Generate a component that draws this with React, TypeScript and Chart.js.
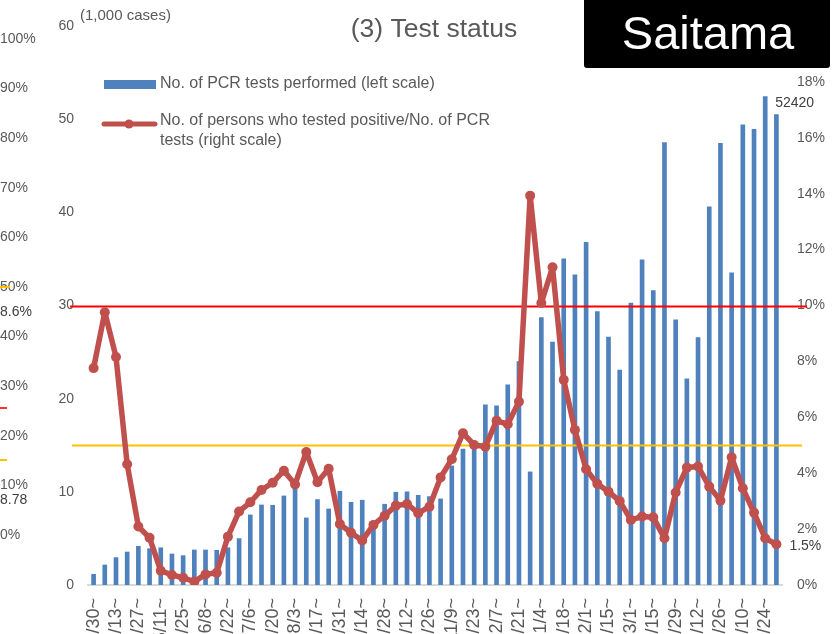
import React, { useEffect, useRef } from 'react';
import { Chart, registerables } from 'chart.js';

Chart.register(...registerables);

// ---- data ----
const weeks = [
  '3/30~', '4/6~', '4/13~', '4/20~', '4/27~', '5/4~', '5/11~', '5/18~', '5/25~', '6/1~',
  '6/8~', '6/15~', '6/22~', '6/29~', '7/6~', '7/13~', '7/20~', '7/27~', '8/3~', '8/10~',
  '8/17~', '8/24~', '8/31~', '9/7~', '9/14~', '9/21~', '9/28~', '10/5~', '10/12~', '10/19~',
  '10/26~', '11/2~', '11/9~', '11/16~', '11/23~', '11/30~', '12/7~', '12/14~', '12/21~', '12/28~',
  '1/4~', '1/11~', '1/18~', '1/25~', '2/1~', '2/8~', '2/15~', '2/22~', '3/1~', '3/8~',
  '3/15~', '3/22~', '3/29~', '4/5~', '4/12~', '4/19~', '4/26~', '5/3~', '5/10~', '5/17~',
  '5/24~', '5/31~',
];

// PCR tests performed, in thousands (left scale)
const pcrTests = [
  1.15, 2.15, 2.94, 3.54, 4.15, 3.9, 4.0, 3.33, 3.15, 3.76,
  3.76, 3.72, 4.0, 4.98, 7.52, 8.59, 8.56, 9.56, 10.6, 7.2,
  9.17, 8.16, 10.06, 8.88, 9.1, 6.3, 8.67, 9.96, 10.0, 9.63,
  9.49, 9.24, 12.78, 14.58, 14.6, 19.33, 19.23, 21.48, 23.99, 12.14,
  28.71, 26.07, 35.0, 33.3, 36.77, 29.36, 26.6, 23.08, 30.26, 34.9,
  31.6, 47.5, 28.46, 22.13, 26.57, 40.6, 47.4, 33.5, 49.4, 48.9,
  52.42, 50.5,
];

// Positive rate, % (right scale)
const positiveRate = [
  7.76, 9.76, 8.16, 4.32, 2.09, 1.69, 0.51, 0.36, 0.26, 0.12,
  0.38, 0.44, 1.73, 2.63, 2.96, 3.4, 3.66, 4.09, 3.6, 4.76,
  3.68, 4.16, 2.18, 1.87, 1.59, 2.15, 2.48, 2.84, 2.9, 2.57,
  2.8, 3.85, 4.5, 5.43, 5.01, 4.95, 5.88, 5.75, 6.56, 13.93,
  10.09, 11.37, 7.34, 5.55, 4.14, 3.62, 3.34, 3.0, 2.33, 2.45,
  2.42, 1.67, 3.31, 4.2, 4.24, 3.52, 3.02, 4.57, 3.46, 2.59,
  1.67, 1.46,
];

const barLabel = 'No. of PCR tests performed (left scale)';
const lineLabelLines = ['No. of persons who tested positive/No. of PCR', 'tests (right scale)'];
const refLevels = [10, 5]; // % on right scale
const ghostPercents = [100, 90, 80, 70, 60, 50, 40, 30, 20, 10, 0];
const ghostExtras = ['8.6%', '8.78'];

const FONT = "'Liberation Sans', Arial, sans-serif";
const GREY = '#595959';
const BAR_COLOR = '#4F81BD';
const LINE_COLOR = '#C0504D';

const decorPlugin = {
  id: 'decor',
  afterDatasetDraw(chart: any, args: any) {
    if (args.index !== 0) return;
    const ctx = chart.ctx;
    const y1 = chart.scales.y1;
    const { left, right } = chart.chartArea;
    ctx.save();
    let y = Math.round(y1.getPixelForValue(refLevels[0])) + 0.5;
    ctx.strokeStyle = '#FF0000';
    ctx.lineWidth = 2;
    ctx.beginPath();
    ctx.moveTo(left - 18, y);
    ctx.lineTo(right + 25, y);
    ctx.stroke();
    y = Math.round(y1.getPixelForValue(refLevels[1])) + 0.5;
    ctx.strokeStyle = '#FFC000';
    ctx.beginPath();
    ctx.moveTo(left - 16, y);
    ctx.lineTo(right + 20, y);
    ctx.stroke();
    ctx.restore();
  },
  afterDraw(chart: any) {
    const ctx = chart.ctx;
    ctx.save();

    // ghost axis at the far left
    ctx.font = `14px ${FONT}`;
    ctx.fillStyle = GREY;
    ctx.textAlign = 'left';
    ctx.textBaseline = 'middle';
    ghostPercents.forEach((v) => {
      ctx.fillText(v + '%', 0, 535 - v * 4.96);
    });
    ctx.fillStyle = '#404040';
    ctx.fillText(ghostExtras[0], 0, 312);
    ctx.fillText(ghostExtras[1], 0, 500);
    ctx.lineWidth = 2;
    ctx.strokeStyle = '#FF3030';
    ctx.beginPath(); ctx.moveTo(0, 408); ctx.lineTo(7, 408); ctx.stroke();
    ctx.strokeStyle = '#FFC000';
    ctx.beginPath(); ctx.moveTo(0, 460); ctx.lineTo(7, 460); ctx.stroke();
    ctx.beginPath(); ctx.moveTo(0, 287); ctx.lineTo(10, 287); ctx.stroke();

    // unit label
    ctx.fillStyle = GREY;
    ctx.font = `15px ${FONT}`;
    ctx.fillText('(1,000 cases)', 80, 16);

    // title
    ctx.font = `26.5px ${FONT}`;
    ctx.textAlign = 'center';
    ctx.fillText('(3) Test status', 434, 30);

    // Saitama box
    ctx.fillStyle = '#000000';
    ctx.beginPath();
    if (ctx.roundRect) ctx.roundRect(584, -6, 246, 74, 3); else ctx.rect(584, -6, 246, 74);
    ctx.fill();
    ctx.fillStyle = '#FFFFFF';
    ctx.font = `47px ${FONT}`;
    ctx.textAlign = 'center';
    ctx.textBaseline = 'alphabetic';
    ctx.fillText('Saitama', 708, 49);

    // legend
    ctx.textAlign = 'left';
    ctx.textBaseline = 'middle';
    ctx.fillStyle = BAR_COLOR;
    ctx.fillRect(104, 80, 52, 9);
    ctx.fillStyle = GREY;
    ctx.font = `16px ${FONT}`;
    ctx.fillText(barLabel, 160, 84);
    ctx.strokeStyle = LINE_COLOR;
    ctx.lineWidth = 5;
    ctx.lineCap = 'round';
    ctx.beginPath(); ctx.moveTo(104, 124); ctx.lineTo(155, 124); ctx.stroke();
    ctx.fillStyle = LINE_COLOR;
    ctx.beginPath(); ctx.arc(129, 124, 4.5, 0, Math.PI * 2); ctx.fill();
    ctx.fillStyle = GREY;
    ctx.fillText(lineLabelLines[0], 160, 121);
    ctx.fillText(lineLabelLines[1], 160, 141);

    // data labels
    const barMeta = chart.getDatasetMeta(0);
    let maxIdx = 0;
    pcrTests.forEach((v, i) => { if (v > pcrTests[maxIdx]) maxIdx = i; });
    const bEl = barMeta.data[maxIdx];
    ctx.fillStyle = '#404040';
    ctx.font = `14px ${FONT}`;
    ctx.fillText(String(Math.round(pcrTests[maxIdx] * 1000)), bEl.x + 10, bEl.y + 7);
    const lineMeta = chart.getDatasetMeta(1);
    const last = positiveRate.length - 1;
    const pEl = lineMeta.data[last];
    ctx.fillText(positiveRate[last].toFixed(1) + '%', pEl.x + 13, pEl.y + 2);

    ctx.restore();
  },
};

export default function App() {
  const ref = useRef<HTMLCanvasElement | null>(null);
  useEffect(() => {
    if (!ref.current) return;
    const chart = new Chart(ref.current, {
      type: 'bar',
      data: {
        labels: weeks,
        datasets: [
          {
            type: 'bar',
            label: barLabel,
            data: pcrTests,
            backgroundColor: BAR_COLOR,
            barThickness: 4,
            yAxisID: 'y',
            order: 1,
          },
          {
            type: 'line',
            label: lineLabelLines.join(' '),
            data: positiveRate,
            borderColor: LINE_COLOR,
            backgroundColor: LINE_COLOR,
            borderWidth: 5.5,
            borderJoinStyle: 'round',
            borderCapStyle: 'round',
            pointRadius: 5,
            pointBackgroundColor: LINE_COLOR,
            pointBorderWidth: 0,
            tension: 0,
            yAxisID: 'y1',
            order: 0,
          },
        ],
      },
      options: {
        responsive: false,
        animation: false,
        devicePixelRatio: 1,
        layout: { padding: { top: 26, left: 0, right: 0, bottom: 0 } },
        plugins: { legend: { display: false }, tooltip: { enabled: false }, title: { display: false } },
        scales: {
          x: {
            type: 'category',
            offset: true,
            grid: { display: false, drawTicks: false },
            border: { display: true, color: '#D9D9D9', width: 2 },
            ticks: {
              autoSkip: false,
              minRotation: 90,
              maxRotation: 90,
              padding: 13,
              color: GREY,
              font: { family: FONT, size: 18 },
              callback: (_v: any, i: number) => (i % 2 === 0 ? weeks[i] : ''),
            },
            afterFit: (s: any) => { s.height = 49; },
          },
          y: {
            position: 'left',
            min: 0,
            max: 60,
            grid: { display: false, drawTicks: false },
            border: { display: false },
            ticks: { stepSize: 10, padding: 14, color: GREY, font: { family: FONT, size: 14 } },
            afterFit: (s: any) => { s.width = 88; },
          },
          y1: {
            position: 'right',
            min: 0,
            max: 20,
            grid: { display: false, drawTicks: false },
            border: { display: false },
            ticks: {
              stepSize: 2,
              padding: 15,
              color: GREY,
              font: { family: FONT, size: 14 },
              callback: (v: any) => (v === 20 ? '' : v + '%'),
            },
            afterFit: (s: any) => { s.width = 51; },
          },
        },
      } as any,
      plugins: [decorPlugin],
    });
    return () => chart.destroy();
  }, []);

  return (
    <div style={{ position: 'absolute', left: 0, top: 0, width: 833, height: 634, overflow: 'hidden', background: '#fff' }}>
      <canvas ref={ref} width={833} height={634} style={{ display: 'block', width: 833, height: 634 }} />
    </div>
  );
}
